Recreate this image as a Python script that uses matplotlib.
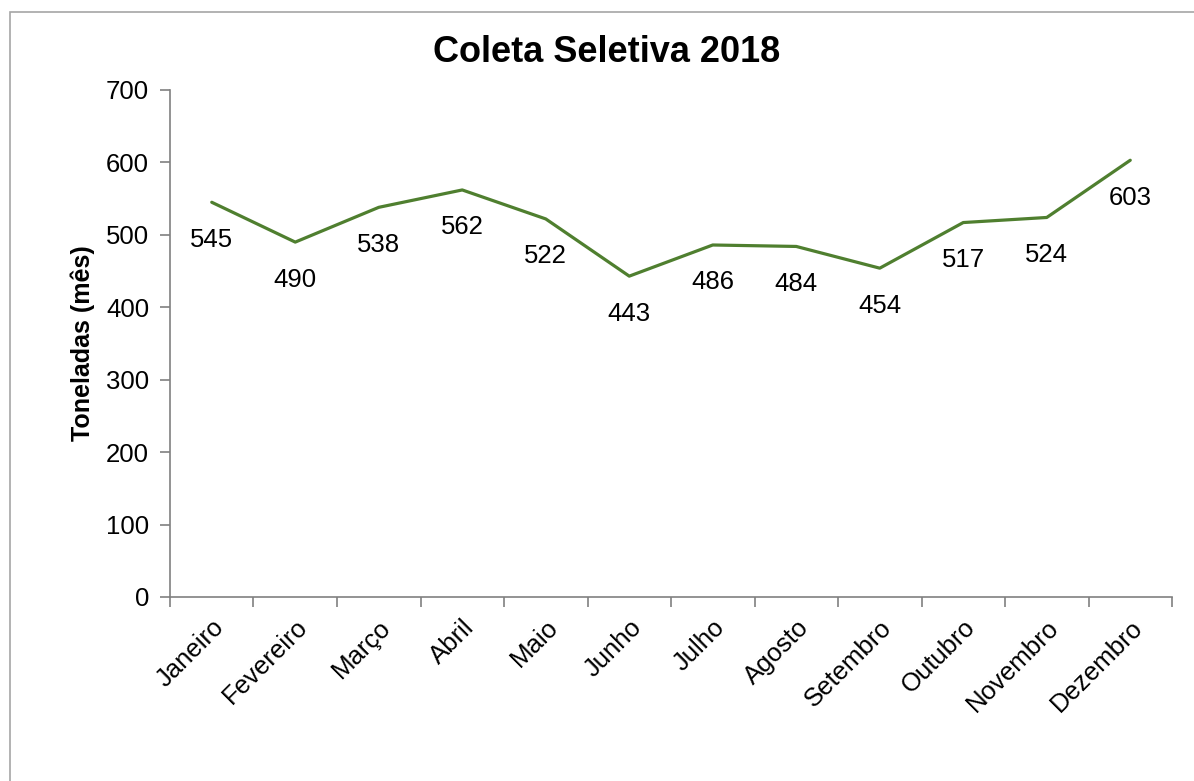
import matplotlib
matplotlib.use("Agg")
from matplotlib import pyplot as plt
from matplotlib.patches import Rectangle
import numpy as np

plt.rcParams['font.family'] = ['Liberation Sans', 'DejaVu Sans']

meses = ['Janeiro', 'Fevereiro', 'Março', 'Abril', 'Maio', 'Junho',
         'Julho', 'Agosto', 'Setembro', 'Outubro', 'Novembro', 'Dezembro']
toneladas = [545, 490, 538, 562, 522, 443, 486, 484, 454, 517, 524, 603]
yticks = [0, 100, 200, 300, 400, 500, 600, 700]

fig = plt.figure(figsize=(11.94, 7.81), dpi=100)
ax = fig.add_axes([170/1194, 1-597/781, (1172-170)/1194, (597-90)/781])

# moldura do grafico
fig.patches.append(Rectangle((10/1194, -0.1), 1.2, 1-12/781+0.1, transform=fig.transFigure,
                             fill=False, edgecolor='#a6a6a6', linewidth=1.2))

x = np.arange(len(meses))
ax.plot(x, toneladas, color='#4f7f2f', linewidth=2.3, solid_capstyle='round')

for xi, v in zip(x, toneladas):
    ax.annotate(str(v), (xi, v), xytext=(0, -27), textcoords='offset points',
                ha='center', va='center', fontsize=18.5)

ax.set_xlim(-0.5, len(meses) - 0.5)
ax.set_ylim(0, 700)
ax.set_yticks(yticks)
ax.set_xticks(x)
ax.set_xticklabels(meses, rotation=45, ha='right', rotation_mode='anchor', fontsize=18.5)
ax.set_xticks(np.arange(-0.5, len(meses)), minor=True)
ax.tick_params(axis='x', which='major', length=0, pad=13)
ax.tick_params(axis='x', which='minor', length=7, color='#808080', width=1.2)
ax.tick_params(axis='y', length=7, color='#808080', width=1.2, labelsize=18.5, pad=8)

for s in ['top', 'right']:
    ax.spines[s].set_visible(False)
for s in ['left', 'bottom']:
    ax.spines[s].set_color('#808080')
    ax.spines[s].set_linewidth(1.2)

ax.set_ylabel('Toneladas (mês)', fontsize=18, fontweight='bold', labelpad=8)
fig.text(607/1194, 1-53/781, 'Coleta Seletiva 2018', ha='center', va='center',
         fontsize=26, fontweight='bold')

fig.savefig('out.png', dpi=100)
